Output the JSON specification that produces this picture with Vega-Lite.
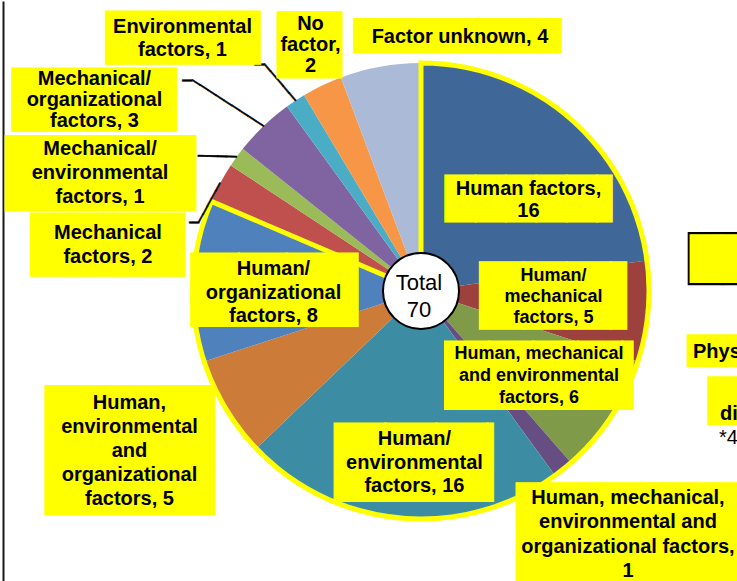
{
  "$schema": "https://vega.github.io/schema/vega-lite/v6.json",
  "autosize": "none",
  "width": 600,
  "height": 580,
  "padding": {"left": 121, "right": 16, "top": 1, "bottom": 0},
  "background": "white",
  "config": {"view": {"stroke": null}, "font": "Liberation Sans"},
  "datasets": {
    "causes": [
      {"idx": 1, "cause": "Human factors", "n": 16, "label": "Human factors,\n16"},
      {"idx": 2, "cause": "Human/mechanical factors", "n": 5, "label": "Human/\nmechanical\nfactors, 5"},
      {"idx": 3, "cause": "Human, mechanical and environmental factors", "n": 6, "label": "Human, mechanical\nand environmental\nfactors, 6"},
      {"idx": 4, "cause": "Human, mechanical, environmental and organizational factors", "n": 1, "label": "Human, mechanical,\nenvironmental and\norganizational factors,\n1"},
      {"idx": 5, "cause": "Human/environmental factors", "n": 16, "label": "Human/\nenvironmental\nfactors, 16"},
      {"idx": 6, "cause": "Human, environmental and organizational factors", "n": 5, "label": "Human,\nenvironmental\nand\norganizational\nfactors, 5"},
      {"idx": 7, "cause": "Human/organizational factors", "n": 8, "label": "Human/\norganizational\nfactors, 8"},
      {"idx": 8, "cause": "Mechanical factors", "n": 2, "label": "Mechanical\nfactors, 2"},
      {"idx": 9, "cause": "Mechanical/environmental factors", "n": 1, "label": "Mechanical/\nenvironmental\nfactors, 1"},
      {"idx": 10, "cause": "Mechanical/organizational factors", "n": 3, "label": "Mechanical/\norganizational\nfactors, 3"},
      {"idx": 11, "cause": "Environmental factors", "n": 1, "label": "Environmental\nfactors, 1"},
      {"idx": 12, "cause": "No factor", "n": 2, "label": "No\nfactor,\n2"},
      {"idx": 13, "cause": "Factor unknown", "n": 4, "label": "Factor unknown, 4"}
    ],
    "groups": [
      {"idx": 1, "group": "Human factors involved", "n": 57},
      {"idx": 2, "group": "No human factors", "n": 13}
    ],
    "total": [
      {"label": "Total\n70", "n": 70}
    ]
  },
  "layer": [
    {
      "data": {"name": "total"},
      "mark": {"type": "rule", "opacity": 0},
      "encoding": {
        "y": {"field": "n", "type": "quantitative",
          "axis": {"orient": "left", "offset": 118, "domainColor": "#1a1a1a", "domainWidth": 2, "labels": false, "ticks": false, "title": null, "grid": false}}
      }
    },
    {
      "data": {"name": "causes"},
      "mark": {"type": "arc", "outerRadius": 228},
      "encoding": {
        "theta": {"field": "n", "type": "quantitative", "stack": true},
        "order": {"field": "idx", "type": "quantitative"},
        "color": {"field": "cause", "type": "nominal", "legend": null,
          "scale": {
            "domain": ["Human factors", "Human/mechanical factors", "Human, mechanical and environmental factors", "Human, mechanical, environmental and organizational factors", "Human/environmental factors", "Human, environmental and organizational factors", "Human/organizational factors", "Mechanical factors", "Mechanical/environmental factors", "Mechanical/organizational factors", "Environmental factors", "No factor", "Factor unknown"],
            "range": ["#3F6797", "#9D413E", "#7F9A48", "#664E83", "#3C8DA3", "#CC7B38", "#4F81BD", "#C0504D", "#9BBB59", "#8064A2", "#4BACC6", "#F79646", "#AABAD7"]
          }}
      }
    },
    {
      "data": {"name": "groups"},
      "mark": {"type": "arc", "outerRadius": 228, "fillOpacity": 0, "stroke": "#FFFF00", "strokeWidth": 5, "strokeJoin": "miter"},
      "encoding": {
        "theta": {"field": "n", "type": "quantitative", "stack": true},
        "order": {"field": "idx", "type": "quantitative"},
        "strokeOpacity": {"condition": {"test": "datum.idx === 1", "value": 1}, "value": 0}
      }
    },
    {
      "data": {"name": "total"},
      "encoding": {"theta": {"field": "n", "type": "quantitative", "stack": true}},
      "layer": [
        {"mark": {"type": "arc", "outerRadius": 38, "fill": "white", "stroke": "black", "strokeWidth": 2}},
        {"mark": {"type": "text", "radius": 0, "fontSize": 22, "lineHeight": 27, "lineBreak": "\n", "baseline": "alphabetic", "align": "center", "dx": -2, "dy": -1, "fill": "black"},
         "encoding": {"text": {"field": "label"}}},
        {"mark": {"type": "text", "radius": 0, "font": "DejaVu Sans", "fontSize": 44.7, "align": "left", "baseline": "alphabetic", "dx": 267, "dy": -17.1, "fill": "black", "text": "██"}},
        {"mark": {"type": "text", "radius": 0, "font": "DejaVu Sans", "fontSize": 41.2, "align": "left", "baseline": "alphabetic", "dx": 269, "dy": -18.4, "fill": "#FFFF00", "text": "██"}},
        {"mark": {"type": "text", "radius": 0, "font": "DejaVu Sans", "fontSize": 27.5, "align": "left", "baseline": "alphabetic", "dx": 266, "dy": 68.8, "fill": "#FFFF00", "text": "███"}},
        {"mark": {"type": "text", "radius": 0, "font": "DejaVu Sans", "fontSize": 41.2, "align": "left", "baseline": "alphabetic", "dx": 287, "dy": 123.6, "fill": "#FFFF00", "text": "██"}},
        {"mark": {"type": "text", "radius": 0, "fontSize": 20, "fontWeight": "bold", "align": "left", "baseline": "alphabetic", "dx": 272, "dy": 67, "fill": "black", "text": "Phys"}},
        {"mark": {"type": "text", "radius": 0, "fontSize": 20, "fontWeight": "bold", "align": "left", "baseline": "alphabetic", "dx": 299, "dy": 129, "fill": "black", "text": "di"}},
        {"mark": {"type": "text", "radius": 0, "fontSize": 20, "align": "left", "baseline": "alphabetic", "dx": 298, "dy": 153, "fill": "black", "text": "*4"}}
      ]
    },
    {
      "data": {"name": "causes"},
      "encoding": {
        "theta": {"field": "n", "type": "quantitative", "stack": true},
        "order": {"field": "idx", "type": "quantitative"}
      },
      "layer": [
        {"mark": {"type": "text", "radius": 228, "font": "DejaVu Sans", "fontSize": 16.05, "angle": 229.4, "align": "left", "baseline": "alphabetic", "dy": 5.75, "fill": "black", "stroke": "black", "strokeWidth": 0.5},
         "encoding": {"text": {"condition": {"test": "datum.idx === 11", "value": "─────"}, "value": ""}}},
        {"mark": {"type": "text", "radius": 228, "font": "DejaVu Sans", "fontSize": 16, "align": "left", "baseline": "alphabetic", "dx": -41.0, "dy": -31.0, "fill": "black", "stroke": "black", "strokeWidth": 0.5},
         "encoding": {"text": {"condition": {"test": "datum.idx === 11", "value": "─"}, "value": ""}}},
        {"mark": {"type": "text", "radius": 228, "font": "DejaVu Sans", "fontSize": 15.7, "angle": 212.9, "align": "left", "baseline": "alphabetic", "dy": 5.62, "fill": "black", "stroke": "black", "strokeWidth": 0.5},
         "encoding": {"text": {"condition": {"test": "datum.idx === 10", "value": "─────────"}, "value": ""}}},
        {"mark": {"type": "text", "radius": 228, "font": "DejaVu Sans", "fontSize": 16, "align": "left", "baseline": "alphabetic", "dx": -81.1, "dy": -40.45, "fill": "black", "stroke": "black", "strokeWidth": 0.5},
         "encoding": {"text": {"condition": {"test": "datum.idx === 10", "value": "─"}, "value": ""}}},
        {"mark": {"type": "text", "radius": 228, "font": "DejaVu Sans", "fontSize": 16, "angle": 181.5, "align": "left", "baseline": "alphabetic", "dy": 5.73, "fill": "black", "stroke": "black", "strokeWidth": 0.5},
         "encoding": {"text": {"condition": {"test": "datum.idx === 9", "value": "────"}, "value": ""}}},
        {"mark": {"type": "text", "radius": 228, "font": "DejaVu Sans", "fontSize": 14.8, "angle": 118.5, "align": "left", "baseline": "alphabetic", "dy": 5.3, "fill": "black", "stroke": "black", "strokeWidth": 0.5},
         "encoding": {"text": {"condition": {"test": "datum.idx === 8", "value": "─────"}, "value": ""}}},
        {"mark": {"type": "text", "radius": 228, "font": "DejaVu Sans", "fontSize": 16, "align": "left", "baseline": "alphabetic", "dx": -30.85, "dy": 44.8, "fill": "black", "stroke": "black", "strokeWidth": 0.5},
         "encoding": {"text": {"condition": {"test": "datum.idx === 8", "value": "─"}, "value": ""}}},

        {"mark": {"type": "text", "radius": 150, "font": "DejaVu Sans", "fontSize": 39.5, "align": "left", "baseline": "alphabetic", "dx": -74.7, "dy": 34.0, "fill": "#FFFF00", "stroke": "#FFFF00", "strokeWidth": 1},
         "encoding": {"text": {"condition": {"test": "datum.idx === 1", "value": "█████▌"}, "value": ""}}},
        {"mark": {"type": "text", "radius": 180, "font": "DejaVu Sans", "fontSize": 56.7, "align": "left", "baseline": "alphabetic", "dx": -120.3, "dy": 8.0, "fill": "#FFFF00", "stroke": "#FFFF00", "strokeWidth": 1},
         "encoding": {"text": {"condition": {"test": "datum.idx === 2", "value": "███▍"}, "value": ""}}},
        {"mark": {"type": "text", "radius": 180, "font": "DejaVu Sans", "fontSize": 57.6, "align": "left", "baseline": "alphabetic", "dx": -126.2, "dy": 4.8, "fill": "#FFFF00", "stroke": "#FFFF00", "strokeWidth": 1},
         "encoding": {"text": {"condition": {"test": "datum.idx === 3", "value": "████▎"}, "value": ""}}},
        {"mark": {"type": "text", "radius": 228, "font": "DejaVu Sans", "fontSize": 86.8, "align": "left", "baseline": "alphabetic", "dx": -46.2, "dy": 95.0, "fill": "#FFFF00", "stroke": "#FFFF00", "strokeWidth": 1},
         "encoding": {"text": {"condition": {"test": "datum.idx === 4", "value": "███▍"}, "value": ""}}},
        {"mark": {"type": "text", "radius": 180, "font": "DejaVu Sans", "fontSize": 66.2, "align": "left", "baseline": "alphabetic", "dx": -69.9, "dy": 14.7, "fill": "#FFFF00", "stroke": "#FFFF00", "strokeWidth": 1},
         "encoding": {"text": {"condition": {"test": "datum.idx === 5", "value": "███▏"}, "value": ""}}},
        {"mark": {"type": "text", "radius": 228, "font": "DejaVu Sans", "fontSize": 109.1, "align": "left", "baseline": "alphabetic", "dx": -179.3, "dy": 80.3, "fill": "#FFFF00", "stroke": "#FFFF00", "strokeWidth": 1},
         "encoding": {"text": {"condition": {"test": "datum.idx === 6", "value": "██"}, "value": ""}}},
        {"mark": {"type": "text", "radius": 180, "font": "DejaVu Sans", "fontSize": 61.9, "align": "left", "baseline": "alphabetic", "dx": -49.6, "dy": 28.0, "fill": "#FFFF00", "stroke": "#FFFF00", "strokeWidth": 1},
         "encoding": {"text": {"condition": {"test": "datum.idx === 7", "value": "███▌"}, "value": ""}}},
        {"mark": {"type": "text", "radius": 228, "font": "DejaVu Sans", "fontSize": 53.3, "align": "left", "baseline": "alphabetic", "dx": -189.2, "dy": 80.0, "fill": "#FFFF00", "stroke": "#FFFF00", "strokeWidth": 1},
         "encoding": {"text": {"condition": {"test": "datum.idx === 8", "value": "███▊"}, "value": ""}}},
        {"mark": {"type": "text", "radius": 228, "font": "DejaVu Sans", "fontSize": 63.6, "align": "left", "baseline": "alphabetic", "dx": -230.5, "dy": 37.6, "fill": "#FFFF00", "stroke": "#FFFF00", "strokeWidth": 1},
         "encoding": {"text": {"condition": {"test": "datum.idx === 9", "value": "███▉"}, "value": ""}}},
        {"mark": {"type": "text", "radius": 228, "font": "DejaVu Sans", "fontSize": 53.3, "align": "left", "baseline": "alphabetic", "dx": -251.0, "dy": -8.3, "fill": "#FFFF00", "stroke": "#FFFF00", "strokeWidth": 1},
         "encoding": {"text": {"condition": {"test": "datum.idx === 10", "value": "████"}, "value": ""}}},
        {"mark": {"type": "text", "radius": 228, "font": "DejaVu Sans", "fontSize": 44.7, "align": "left", "baseline": "alphabetic", "dx": -189.3, "dy": -47.9, "fill": "#FFFF00", "stroke": "#FFFF00", "strokeWidth": 1},
         "encoding": {"text": {"condition": {"test": "datum.idx === 11", "value": "████▌"}, "value": ""}}},
        {"mark": {"type": "text", "radius": 228, "font": "DejaVu Sans", "fontSize": 55.8, "align": "left", "baseline": "alphabetic", "dx": -44.3, "dy": -21.3, "fill": "#FFFF00", "stroke": "#FFFF00", "strokeWidth": 1},
         "encoding": {"text": {"condition": {"test": "datum.idx === 12", "value": "█▌"}, "value": ""}}},
        {"mark": {"type": "text", "radius": 228, "font": "DejaVu Sans", "fontSize": 29.2, "align": "left", "baseline": "alphabetic", "dx": -26.3, "dy": -20.3, "fill": "#FFFF00", "stroke": "#FFFF00", "strokeWidth": 1},
         "encoding": {"text": {"condition": {"test": "datum.idx === 13", "value": "█████████▎"}, "value": ""}}},

        {"mark": {"type": "text", "radius": 150, "fontSize": 20, "fontWeight": "bold", "lineHeight": 22, "lineBreak": "\n", "align": "center", "baseline": "middle", "dx": 8.8, "dy": 10.9, "fill": "black"},
         "encoding": {"text": {"condition": {"test": "datum.idx === 1", "field": "label"}, "value": ""}}},
        {"mark": {"type": "text", "radius": 180, "fontSize": 18, "fontWeight": "bold", "lineHeight": 21, "lineBreak": "\n", "align": "center", "baseline": "middle", "dx": -46.8, "dy": -31.1, "fill": "black"},
         "encoding": {"text": {"condition": {"test": "datum.idx === 2", "field": "label"}, "value": ""}}},
        {"mark": {"type": "text", "radius": 180, "fontSize": 18, "fontWeight": "bold", "lineHeight": 22, "lineBreak": "\n", "align": "center", "baseline": "middle", "dx": -32.2, "dy": -36.2, "fill": "black"},
         "encoding": {"text": {"condition": {"test": "datum.idx === 3", "field": "label"}, "value": ""}}},
        {"mark": {"type": "text", "radius": 228, "fontSize": 20, "fontWeight": "bold", "lineHeight": 24.3, "lineBreak": "\n", "align": "center", "baseline": "middle", "dx": 64.8, "dy": 28.8, "fill": "black"},
         "encoding": {"text": {"condition": {"test": "datum.idx === 4", "field": "label"}, "value": ""}}},
        {"mark": {"type": "text", "radius": 180, "fontSize": 20, "fontWeight": "bold", "lineHeight": 23.5, "lineBreak": "\n", "align": "center", "baseline": "middle", "dx": 9.6, "dy": -30.8, "fill": "black"},
         "encoding": {"text": {"condition": {"test": "datum.idx === 5", "field": "label"}, "value": ""}}},
        {"mark": {"type": "text", "radius": 228, "fontSize": 20, "fontWeight": "bold", "lineHeight": 24, "lineBreak": "\n", "align": "center", "baseline": "middle", "dx": -95.8, "dy": -4.9, "fill": "black"},
         "encoding": {"text": {"condition": {"test": "datum.idx === 6", "field": "label"}, "value": ""}}},
        {"mark": {"type": "text", "radius": 180, "fontSize": 20, "fontWeight": "bold", "lineHeight": 23.5, "lineBreak": "\n", "align": "center", "baseline": "middle", "dx": 32.3, "dy": -13.7, "fill": "black"},
         "encoding": {"text": {"condition": {"test": "datum.idx === 7", "field": "label"}, "value": ""}}},
        {"mark": {"type": "text", "radius": 228, "fontSize": 20, "fontWeight": "bold", "lineHeight": 24, "lineBreak": "\n", "align": "center", "baseline": "middle", "dx": -112.3, "dy": 50.1, "fill": "black"},
         "encoding": {"text": {"condition": {"test": "datum.idx === 8", "field": "label"}, "value": ""}}},
        {"mark": {"type": "text", "radius": 228, "fontSize": 20, "fontWeight": "bold", "lineHeight": 24, "lineBreak": "\n", "align": "center", "baseline": "middle", "dx": -136.5, "dy": -8, "fill": "black"},
         "encoding": {"text": {"condition": {"test": "datum.idx === 9", "field": "label"}, "value": ""}}},
        {"mark": {"type": "text", "radius": 228, "fontSize": 20, "fontWeight": "bold", "lineHeight": 21, "lineBreak": "\n", "align": "center", "baseline": "middle", "dx": -169, "dy": -47.2, "fill": "black"},
         "encoding": {"text": {"condition": {"test": "datum.idx === 10", "field": "label"}, "value": ""}}},
        {"mark": {"type": "text", "radius": 228, "fontSize": 20, "fontWeight": "bold", "lineHeight": 23, "lineBreak": "\n", "align": "center", "baseline": "middle", "dx": -112.9, "dy": -73.7, "fill": "black"},
         "encoding": {"text": {"condition": {"test": "datum.idx === 11", "field": "label"}, "value": ""}}},
        {"mark": {"type": "text", "radius": 228, "fontSize": 20, "fontWeight": "bold", "lineHeight": 21, "lineBreak": "\n", "align": "center", "baseline": "middle", "dx": -11.6, "dy": -61.6, "fill": "black"},
         "encoding": {"text": {"condition": {"test": "datum.idx === 12", "field": "label"}, "value": ""}}},
        {"mark": {"type": "text", "radius": 228, "fontSize": 20, "fontWeight": "bold", "lineHeight": 22, "lineBreak": "\n", "align": "center", "baseline": "middle", "dx": 79.7, "dy": -29.7, "fill": "black"},
         "encoding": {"text": {"condition": {"test": "datum.idx === 13", "field": "label"}, "value": ""}}}
      ]
    }
  ]
}
